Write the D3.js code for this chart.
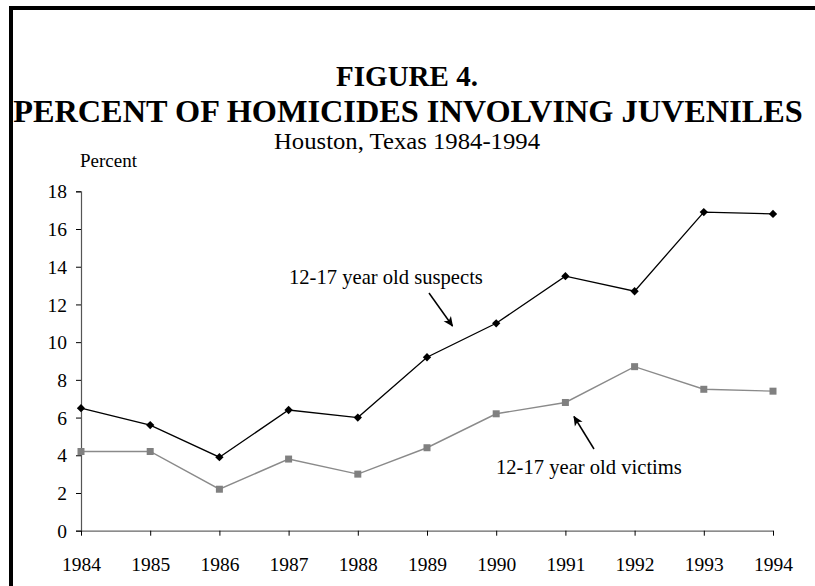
<!DOCTYPE html>
<html>
<head>
<meta charset="utf-8">
<script src="https://cdn.jsdelivr.net/npm/d3@7"></script>
<style>
  html, body { margin: 0; padding: 0; background: #fff; }
  svg { display: block; }
  text { font-family: "Liberation Serif", "Times New Roman", serif; fill: #000; }
</style>
</head>
<body>
<svg id="chart" width="815" height="586"></svg>
<script>
// Houston homicide data, 1984-1994 (percent involving juveniles)
const years = [1984, 1985, 1986, 1987, 1988, 1989, 1990, 1991, 1992, 1993, 1994];
const suspects = [6.5, 5.6, 3.9, 6.4, 6.0, 9.2, 11.0, 13.5, 12.7, 16.9, 16.8];
const victims = [4.2, 4.2, 2.2, 3.8, 3.0, 4.4, 6.2, 6.8, 8.7, 7.5, 7.4];
const yTicks = [0, 2, 4, 6, 8, 10, 12, 14, 16, 18];

const titleLines = ["FIGURE 4.", "PERCENT OF HOMICIDES INVOLVING JUVENILES"];
const subtitle = "Houston, Texas 1984-1994";
const yLabel = "Percent";
const suspectLabel = "12-17 year old suspects";
const victimLabel = "12-17 year old victims";

const svg = d3.select("#chart");
const W = 815, H = 586;
const serif = "'Liberation Serif', 'Times New Roman', serif";

// frame: heavy rule along top and left edges
svg.append("rect").attr("width", W).attr("height", H).attr("fill", "#fff");
svg.append("line").attr("x1", 9).attr("x2", W).attr("y1", 8).attr("y2", 8)
  .attr("stroke", "#000").attr("stroke-width", 4);
svg.append("line").attr("x1", 11).attr("x2", 11).attr("y1", 6).attr("y2", H)
  .attr("stroke", "#000").attr("stroke-width", 4);

// titles
svg.append("text").attr("x", 407).attr("y", 86).attr("text-anchor", "middle")
  .attr("font-size", 29).attr("font-weight", "bold").text(titleLines[0]);
svg.append("text").attr("x", 408).attr("y", 122).attr("text-anchor", "middle")
  .attr("font-size", 32.3).attr("font-weight", "bold").text(titleLines[1]);
svg.append("text").attr("x", 407).attr("y", 149).attr("text-anchor", "middle")
  .attr("font-size", 22.5).attr("textLength", 266).attr("lengthAdjust", "spacingAndGlyphs")
  .text(subtitle);
svg.append("text").attr("x", 80).attr("y", 167).attr("font-size", 19).text(yLabel);

// scales
const x = d3.scalePoint().domain(years).range([81, 773]);
const y = d3.scaleLinear().domain([0, 18]).range([530.7, 191.3]);

// y axis
const yAxis = svg.append("g").attr("transform", "translate(81,0)")
  .call(d3.axisLeft(y).tickValues(yTicks).tickSize(5).tickPadding(9).tickFormat(d3.format("d")));
yAxis.attr("font-family", serif);
yAxis.select(".domain").attr("stroke", "#555").attr("stroke-width", 1.2);
yAxis.selectAll(".tick line").attr("stroke", "#000");
yAxis.selectAll(".tick text").attr("font-size", 19.5).attr("dy", "0.34em").attr("fill", "#000");

// x axis
const xAxis = svg.append("g").attr("transform", "translate(0,530.7)")
  .call(d3.axisBottom(x).tickSize(5).tickPadding(21).tickSizeOuter(0));
xAxis.attr("font-family", serif);
xAxis.select(".domain").attr("stroke", "#666").attr("stroke-width", 1.2);
xAxis.selectAll(".tick line").attr("stroke", "#000");
xAxis.selectAll(".tick text").attr("font-size", 19.5).attr("fill", "#000");

const line = d3.line().x((d, i) => x(years[i])).y(d => y(d));

// victims series: grey line, square markers
svg.append("path").datum(victims).attr("d", line)
  .attr("fill", "none").attr("stroke", "#8a8a8a").attr("stroke-width", 1.4);
svg.append("g").selectAll("rect").data(victims).join("rect")
  .attr("x", (d, i) => x(years[i]) - 3.5).attr("y", d => y(d) - 3.5)
  .attr("width", 7).attr("height", 7).attr("fill", "#808080");

// suspects series: black line, diamond markers
svg.append("path").datum(suspects).attr("d", line)
  .attr("fill", "none").attr("stroke", "#000").attr("stroke-width", 1.3);
const diamond = d3.symbol().type(d3.symbolDiamond2).size(44);
svg.append("g").selectAll("path").data(suspects).join("path")
  .attr("transform", (d, i) => `translate(${x(years[i])},${y(d)})`)
  .attr("d", diamond).attr("fill", "#000");

// arrowhead
svg.append("defs").append("marker").attr("id", "arrow")
  .attr("viewBox", "0 0 10 10").attr("refX", 9).attr("refY", 5)
  .attr("markerWidth", 10).attr("markerHeight", 10).attr("markerUnits", "userSpaceOnUse")
  .attr("orient", "auto")
  .append("path").attr("d", "M0,0.5 L10,5 L0,9.5 L2.5,5 Z").attr("fill", "#000");

// annotations
svg.append("text").attr("x", 289).attr("y", 284).attr("font-size", 20.6).text(suspectLabel);
svg.append("line").attr("x1", 429).attr("y1", 293).attr("x2", 452.5).attr("y2", 326)
  .attr("stroke", "#000").attr("stroke-width", 1.5).attr("marker-end", "url(#arrow)");

svg.append("text").attr("x", 496).attr("y", 474).attr("font-size", 20.6).text(victimLabel);
svg.append("line").attr("x1", 594).attr("y1", 449).attr("x2", 574).attr("y2", 416.5)
  .attr("stroke", "#000").attr("stroke-width", 1.5).attr("marker-end", "url(#arrow)");
</script>
</body>
</html>
